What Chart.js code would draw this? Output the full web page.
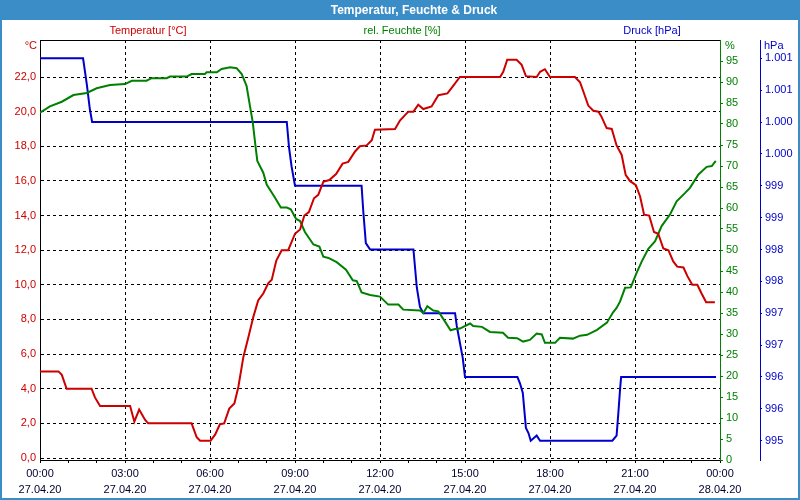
<!DOCTYPE html>
<html><head><meta charset="utf-8">
<script src="https://cdn.jsdelivr.net/npm/chart.js@4/dist/chart.umd.min.js"></script>
<style>html,body{margin:0;padding:0;background:#fff}canvas{display:block}</style>
</head><body>
<canvas id="c" width="800" height="500"></canvas>
<script>
const chartTitle = 'Temperatur, Feuchte & Druck';
const seriesNames = ['Temperatur [°C]', 'rel. Feuchte [%]', 'Druck [hPa]'];
const axisUnits = ['°C', '%', 'hPa'];
const hourTicks = [0,1,2,3,4,5,6,7,8,9,10,11,12,13,14,15,16,17,18,19,20,21,22,23,24];
const timeTickLabels = ['00:00','03:00','06:00','09:00','12:00','15:00','18:00','21:00','00:00'];
const dateTickLabels = ['27.04.20','27.04.20','27.04.20','27.04.20','27.04.20','27.04.20','27.04.20','27.04.20','28.04.20'];
const tempTicks = [0,2,4,6,8,10,12,14,16,18,20,22];
const tempTickLabels = ['0,0','2,0','4,0','6,0','8,0','10,0','12,0','14,0','16,0','18,0','20,0','22,0'];
const humTicks = [0,5,10,15,20,25,30,35,40,45,50,55,60,65,70,75,80,85,90,95];
const pressTicks = [995,995.5,996,996.5,997,997.5,998,998.5,999,999.5,1000,1000.5,1001];
const pressTickLabels = ['995','996','996','997','997','998','998','999','999','1.000','1.000','1.001','1.001'];

const tempHours = [0,0.65,0.77,0.94,1.82,1.94,2.12,3.18,3.33,3.50,3.71,3.82,5.35,5.53,5.65,6.02,6.18,6.35,6.5,6.68,6.86,7.0,7.18,7.35,7.53,7.7,7.88,8.06,8.18,8.34,8.53,8.76,9.0,9.18,9.33,9.49,9.67,9.82,10.0,10.21,10.45,10.68,10.88,11.12,11.29,11.53,11.71,11.82,12.53,12.71,13.0,13.18,13.35,13.53,13.82,14.06,14.38,14.59,14.82,16.24,16.35,16.49,16.82,17.0,17.15,17.53,17.65,17.82,18.0,18.88,19.06,19.18,19.35,19.53,19.71,19.82,20.0,20.18,20.35,20.53,20.67,20.82,21.03,21.18,21.32,21.5,21.67,21.82,22.0,22.18,22.35,22.49,22.71,22.85,23.02,23.2,23.35,23.51,23.82];
const tempValues = [5.0,5.0,4.8,4.0,4.0,3.5,3.0,3.0,2.1,2.8,2.2,2.0,2.0,1.2,1.0,1.0,1.35,1.95,2.0,2.85,3.15,4.1,5.85,6.95,8.15,9.1,9.5,10.1,10.3,11.4,12.0,12.0,12.95,13.2,14.0,14.2,15.0,15.2,15.95,16.05,16.4,17.0,17.1,17.7,18.0,18.05,18.35,18.95,19.0,19.5,20.0,20.0,20.4,20.15,20.3,20.95,21.05,21.5,22.0,22.0,22.3,23.0,23.0,22.7,22.05,22.0,22.3,22.45,22.0,22.0,21.7,21.15,20.35,20.05,20.0,19.7,19.05,19.0,18.05,17.5,16.35,16.0,15.75,15.1,14.05,14.0,13.05,12.95,12.1,12.0,11.35,11.05,11.0,10.5,10.0,10.0,9.5,9.0,9.0];

const humHours = [0,0.35,0.77,1.18,1.65,2.0,2.47,3.0,3.24,3.76,3.94,4.47,4.59,5.18,5.35,5.82,5.88,6.24,6.41,6.71,6.94,7.12,7.29,7.41,7.51,7.59,7.67,7.88,8.0,8.29,8.5,8.71,8.85,9.04,9.18,9.35,9.65,9.86,10.0,10.18,10.47,10.8,11.04,11.18,11.35,11.65,12.0,12.29,12.65,12.82,13.41,13.53,13.67,13.88,14.06,14.29,14.49,14.65,14.82,15.18,15.29,15.6,15.88,16.34,16.52,16.84,17.05,17.29,17.53,17.71,17.82,18.18,18.35,18.81,19.06,19.31,19.66,20.01,20.22,20.35,20.47,20.65,20.85,21.06,21.24,21.47,21.71,21.94,22.24,22.47,22.77,22.94,23.24,23.53,23.71,23.85];
const humValues = [82.7,84.2,85.3,86.9,87.4,88.5,89.3,89.5,90.3,90.3,90.9,90.9,91.3,91.3,91.9,91.9,92.3,92.3,93.1,93.5,93.3,91.9,89.1,84.3,80.4,75.6,71.2,68.4,65.6,62.5,60.1,60.1,59.7,57.4,56.9,54.3,51.3,50.8,48.4,48.1,47.1,45.3,42.8,42.6,39.9,39.3,38.9,37.0,37.0,35.8,35.6,35.0,36.6,35.6,35.4,33.0,30.9,31.2,31.3,32.5,31.9,31.7,30.5,30.3,29.1,29.0,28.2,28.6,30.1,29.9,27.9,27.9,29.1,28.9,29.6,29.8,31.0,32.7,35.1,36.2,37.7,41.0,41.1,44.6,47.3,50.3,52.1,55.7,58.5,61.6,63.6,64.8,68.0,69.8,70.0,71.2];

const pressHours = [0,1.52,1.65,1.76,1.84,8.71,8.79,8.88,9.0,11.35,11.41,11.50,11.65,13.18,13.30,13.41,13.53,14.65,14.71,14.92,15.0,16.85,16.94,17.04,17.15,17.24,17.32,17.53,17.65,20.2,20.35,20.41,20.47,20.51,23.86];
const pressValues = [1001,1001,1000.6,1000.2,1000,1000,999.6,999.3,999,999,998.6,998.1,998,998,997.4,997.1,997,997,996.8,996.3,996,996,995.9,995.75,995.2,995.12,995,995.08,995,995,995.08,995.42,995.79,996,996];

const FONT = "'Liberation Sans', Arial, sans-serif";
const RED = '#cc0000', GREEN = '#008000', BLUE = '#0000cc', FRAME = '#3b8dc8';

const pts = (xs, ys) => xs.map((x, i) => ({x: x, y: ys[i]}));

const framePlugin = {
  id: 'frame',
  beforeDraw(chart) {
    const ctx = chart.ctx, W = chart.width, H = chart.height;
    ctx.save();
    ctx.fillStyle = '#ffffff';
    ctx.fillRect(0, 0, W, H);
    ctx.fillStyle = FRAME;
    ctx.fillRect(0, 0, W, 20);
    ctx.fillStyle = '#ffffff';
    ctx.font = "bold 12px " + FONT;
    ctx.textAlign = 'center';
    ctx.textBaseline = 'middle';
    ctx.fillText(chartTitle, 414, 11);
    ctx.restore();
  },
  afterDraw(chart) {
    const ctx = chart.ctx, a = chart.chartArea, W = chart.width, H = chart.height;
    ctx.save();
    ctx.strokeStyle = '#000';
    ctx.lineWidth = 1;
    ctx.beginPath();
    ctx.moveTo(a.left, a.top + 0.5);
    ctx.lineTo(a.right, a.top + 0.5);
    ctx.stroke();
    ctx.font = "11px " + FONT;
    ctx.textBaseline = 'middle';
    ctx.textAlign = 'center';
    ctx.fillStyle = RED; ctx.fillText(seriesNames[0], 148, 31);
    ctx.fillStyle = GREEN; ctx.fillText(seriesNames[1], 402, 31);
    ctx.fillStyle = BLUE; ctx.fillText(seriesNames[2], 652, 31);
    ctx.textAlign = 'right';
    ctx.fillStyle = RED; ctx.fillText(axisUnits[0], 37, 46);
    ctx.textAlign = 'left';
    ctx.fillStyle = GREEN; ctx.fillText(axisUnits[1], 725, 46);
    ctx.fillStyle = BLUE; ctx.fillText(axisUnits[2], 764, 46);
    ctx.strokeStyle = FRAME;
    ctx.lineWidth = 2;
    ctx.strokeRect(1, 1, W - 2, H - 2);
    ctx.restore();
  }
};

const font11 = {family: FONT, size: 11};

new Chart(document.getElementById('c'), {
  type: 'line',
  data: {
    datasets: [
      {label: seriesNames[0], data: pts(tempHours, tempValues), yAxisID: 'y', borderColor: RED, borderWidth: 2, pointRadius: 0, tension: 0, fill: false},
      {label: seriesNames[1], data: pts(humHours, humValues), yAxisID: 'y1', borderColor: GREEN, borderWidth: 2, pointRadius: 0, tension: 0, fill: false},
      {label: seriesNames[2], data: pts(pressHours, pressValues), yAxisID: 'y2', borderColor: BLUE, borderWidth: 2, pointRadius: 0, tension: 0, fill: false}
    ]
  },
  options: {
    responsive: false,
    animation: false,
    devicePixelRatio: 1,
    layout: {padding: {top: 40, left: 0, right: 0, bottom: 0}},
    plugins: {legend: {display: false}, tooltip: {enabled: false}},
    scales: {
      x: {
        type: 'linear', position: 'bottom', min: 0, max: 24,
        afterBuildTicks: s => { s.ticks = hourTicks.map(v => ({value: v})); },
        afterFit: s => { s.height = 40; },
        ticks: {
          autoSkip: false, maxRotation: 0, minRotation: 0, padding: 3, color: '#000030',
          font: {family: FONT, size: 11, lineHeight: '16px'},
          callback: v => (v % 3 === 0) ? [timeTickLabels[v / 3], dateTickLabels[v / 3]] : ''
        },
        grid: {
          color: c => (c.tick && c.tick.value % 3 === 0 && c.tick.value > 0 && c.tick.value < 24) ? '#000' : 'rgba(0,0,0,0)',
          tickColor: '#000', tickLength: 3, lineWidth: 1
        },
        border: {display: true, color: '#000', width: 1, dash: [3, 3]}
      },
      y: {
        type: 'linear', position: 'left', min: -0.115, max: 24.137,
        afterBuildTicks: s => { s.ticks = tempTicks.map(v => ({value: v})); },
        afterFit: s => { s.width = 40; },
        ticks: {color: RED, padding: 4, font: font11, callback: (v, i) => tempTickLabels[i]},
        grid: {color: '#000', drawTicks: false, lineWidth: 1},
        border: {display: true, color: '#000', width: 1, dash: [3, 3]}
      },
      y1: {
        type: 'linear', position: 'right', weight: 0, min: 0, max: 100,
        afterBuildTicks: s => { s.ticks = humTicks.map(v => ({value: v})); },
        afterFit: s => { s.width = 40; },
        ticks: {color: GREEN, padding: 3, font: font11, callback: v => String(v)},
        grid: {drawOnChartArea: false, color: GREEN, tickColor: GREEN, tickLength: 3},
        border: {display: true, color: GREEN, width: 1}
      },
      y2: {
        type: 'linear', position: 'right', weight: 1, min: 994.697, max: 1001.287,
        afterBuildTicks: s => { s.ticks = pressTicks.map(v => ({value: v})); },
        afterFit: s => { s.width = 40; },
        ticks: {color: BLUE, padding: 3, font: font11, callback: (v, i) => pressTickLabels[i]},
        grid: {drawOnChartArea: false, color: BLUE, tickColor: BLUE, tickLength: 2},
        border: {display: true, color: BLUE, width: 1}
      }
    }
  },
  plugins: [framePlugin]
});
</script>
</body></html>
